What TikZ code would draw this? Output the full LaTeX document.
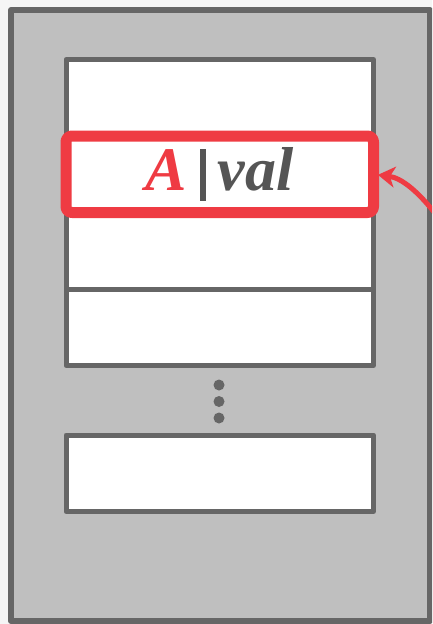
\documentclass[tikz,border=0pt]{standalone}
\usepackage{fontspec}
\setmainfont{Liberation Serif}
\usetikzlibrary{positioning,arrows.meta}
\definecolor{pageGray}{HTML}{F5F5F5}
\definecolor{frameGray}{HTML}{BFBFBF}
\definecolor{lineGray}{HTML}{666666}
\definecolor{txtGray}{HTML}{555555}
\definecolor{hiRed}{HTML}{EF3B43}
\tikzset{
	slot/.style={draw=lineGray, fill=white, line width=5pt, outer sep=0pt, inner sep=0pt,
		minimum width=307.5pt, minimum height=76.5pt},
	dot/.style={circle, fill=lineGray, inner sep=0pt, minimum size=11pt},
	hilite/.style={draw=hiRed, line width=11pt, rounded corners=6pt},
}
\begin{document}
\begin{tikzpicture}[x=1pt,y=-1pt,line join=round,line cap=round]
	\fill[pageGray] (0,0) rectangle (432,624);
	\useasboundingbox (0,0) rectangle (432,624);
	\clip (0,0) rectangle (432,624);
	% outer frame
	\node[draw=lineGray, fill=frameGray, line width=6pt, outer sep=0pt, anchor=north west,
		minimum width=418.5pt, minimum height=611pt] (frame) at (11,10) {};
	% stacked slots
	\node[slot, anchor=north west] (s1) at (66,59.5) {};
	\node[slot, below=0pt of s1, font=\fontsize{62}{62}\selectfont\bfseries\itshape, text=txtGray]
		(s2) {\textcolor{hiRed}{A}\hspace{13pt}\textcolor{txtGray}{\rule[-10pt]{5.5pt}{52pt}}\hspace{12pt}val};
	\node[slot, below=0pt of s2] (s3) {};
	\node[slot, below=0pt of s3] (s4) {};
	\draw[hilite] (s2.north west) rectangle (s2.south east);
	\foreach \y in {385,401.5,418} \node[dot] at (219,\y) {};
	\node[slot, anchor=north west] (s5) at (66,435) {};
	% pointer
	\coordinate (src) at (434,212);
	\draw[hiRed, line width=5pt, -{Stealth[length=17pt,width=21pt,inset=5pt]}, shorten >=4.5pt]
		(src) .. controls (418,192) and (402,178) .. (s2.east);
\end{tikzpicture}
\end{document}
